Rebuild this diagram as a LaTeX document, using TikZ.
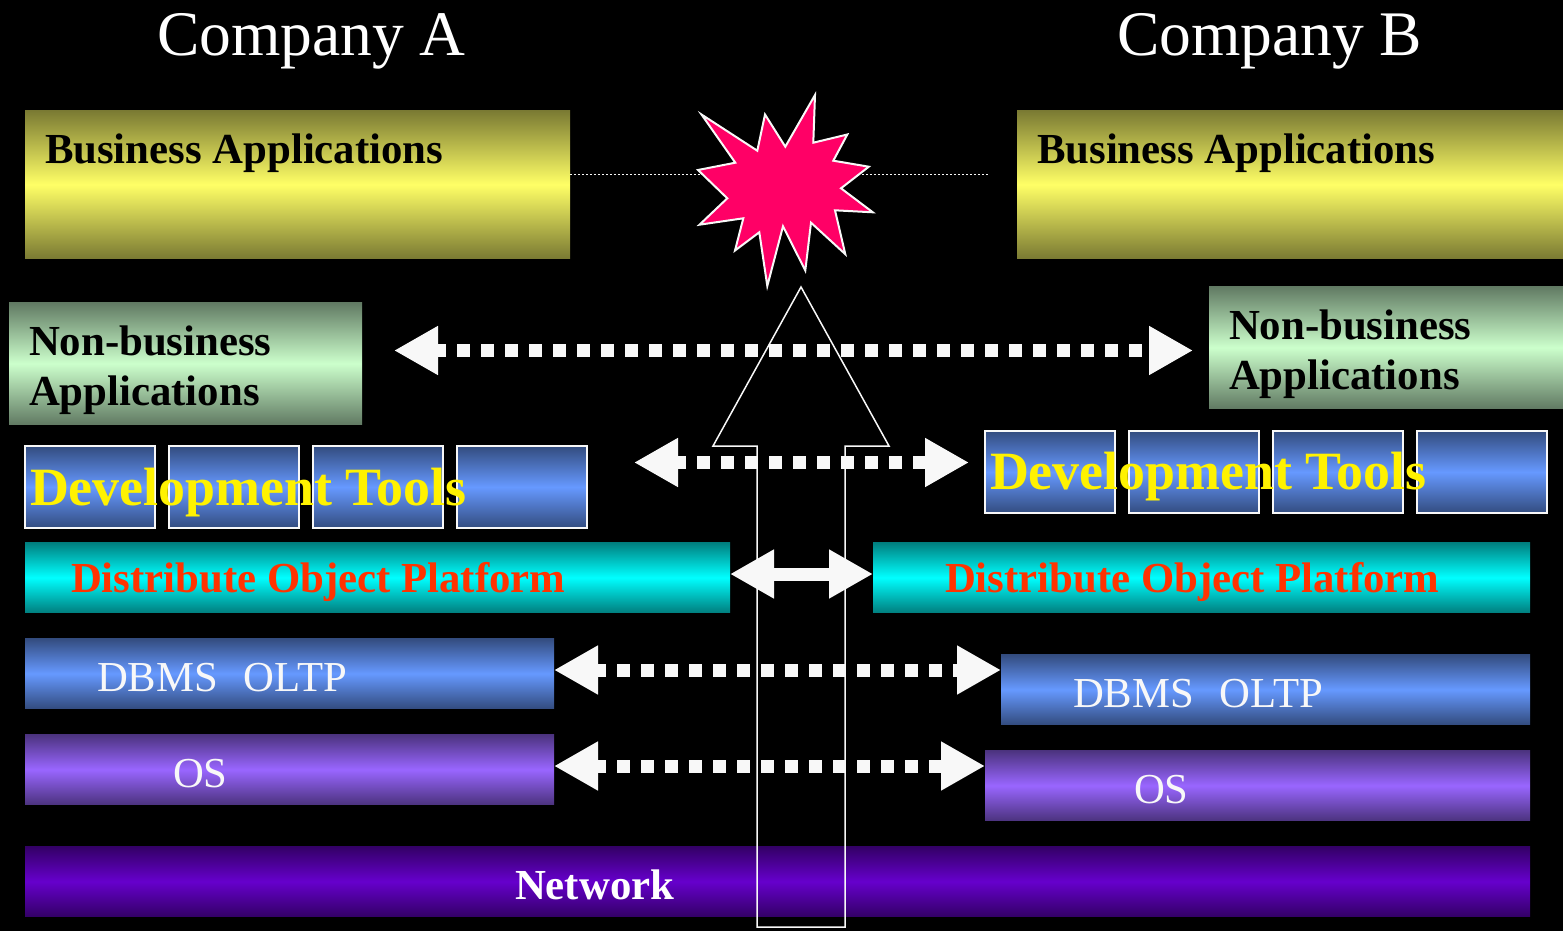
\documentclass[tikz,border=0pt]{standalone}
\usepackage{fontspec}
\setmainfont{Liberation Serif}
\usetikzlibrary{arrows.meta}
\definecolor{offw}{HTML}{F8F8F8}
\definecolor{redtxt}{HTML}{FF3300}
\definecolor{burst}{HTML}{FF0066}
\definecolor{yellowedge}{HTML}{7A7A33}\definecolor{yellowmid}{HTML}{FFFF66}
\definecolor{greenedge}{HTML}{617A63}\definecolor{greenmid}{HTML}{CCFFCC}
\definecolor{blueedge}{HTML}{334C7F}\definecolor{bluemid}{HTML}{6699FF}
\definecolor{cyanedge}{HTML}{007F7F}\definecolor{cyanmid}{HTML}{00FFFF}
\definecolor{purpedge}{HTML}{4C337F}\definecolor{purpmid}{HTML}{9966FF}
\definecolor{netedge}{HTML}{330066}\definecolor{netmid}{HTML}{6600CC}
\tikzset{
  band/.style n args={2}{rectangle,anchor=north west,inner sep=0pt,outer sep=0pt,draw=none,top color=#1,bottom color=#1,middle color=#2},
  ybox/.style={band={yellowedge}{yellowmid}},
  gbox/.style={band={greenedge}{greenmid}},
  bbox/.style={band={blueedge}{bluemid}},
  cbox/.style={band={cyanedge}{cyanmid}},
  pbox/.style={band={purpedge}{purpmid}},
  nbox/.style={band={netedge}{netmid}},
  tbox/.style={bbox,draw=offw,line width=1.6pt,minimum width=130pt,minimum height=82pt},
  txt/.style={anchor=base west,inner sep=0pt,outer sep=0pt,font=\fontsize{42.7}{50}\selectfont},
  btxt/.style={txt,font=\fontsize{42.8}{50}\selectfont\bfseries},
  head/.style={anchor=base west,inner sep=0pt,outer sep=0pt,text=white,font=\fontsize{63.5}{70}\selectfont},
  devtxt/.style={anchor=base west,inner sep=0pt,outer sep=0pt,text=yellow,font=\fontsize{53.9}{60}\selectfont\bfseries},
  dblarrow/.style={draw=offw,line width=13pt,{Triangle[length=44pt,width=46pt,fill=offw]}-{Triangle[length=44pt,width=46pt,fill=offw]}},
  dots/.style={dblarrow,dash pattern=on 13pt off 11pt,dash phase=2pt},
  outlinew/.style={draw=offw,line width=1.5pt,line join=miter},
}
\begin{document}
\begin{tikzpicture}[x=1pt,y=-1pt]
\path[use as bounding box,fill=black] (0,0) rectangle (1563,931);

% dotted line behind the burst
\coordinate (dotend) at (988,174.5);
\coordinate (dotstart) at (570,174.5);
\draw[draw=offw,line width=1.5pt,dash pattern=on 1.5pt off 2.5pt] (dotstart) -- (dotend);

% boxes
\node[ybox,minimum width=545pt,minimum height=148pt] (busA) at (25,110.5) {};
\node[ybox,minimum width=546pt,minimum height=148pt] (busB) at (1017,110.5) {};
\node[gbox,minimum width=353pt,minimum height=122pt] (nonA) at (9,302.5) {};
\node[gbox,minimum width=354pt,minimum height=122pt] (nonB) at (1209,286.5) {};
\node[tbox] (tA1) at (25,446) {};
\node[tbox] (tA2) at (169,446) {};
\node[tbox] (tA3) at (313,446) {};
\node[tbox] (tA4) at (457,446) {};
\node[tbox] (tB1) at (985,431) {};
\node[tbox] (tB2) at (1129,431) {};
\node[tbox] (tB3) at (1273,431) {};
\node[tbox] (tB4) at (1417,431) {};
\node[cbox,minimum width=705pt,minimum height=70pt] (disA) at (25,542.5) {};
\node[cbox,minimum width=657pt,minimum height=70pt] (disB) at (873,542.5) {};
\node[bbox,minimum width=529pt,minimum height=70pt] (dbA) at (25,638.5) {};
\node[bbox,minimum width=529pt,minimum height=70pt] (dbB) at (1001,654.5) {};
\node[pbox,minimum width=529pt,minimum height=70pt] (osA) at (25,734.5) {};
\node[pbox,minimum width=545pt,minimum height=70pt] (osB) at (985,750.5) {};
\node[nbox,minimum width=1505pt,minimum height=70pt] (net) at (25,846.5) {};

% burst
\draw[outlinew,line width=2pt,fill=burst] (815,95) -- (813.3,142.7) -- (847.3,134.5) -- (833.3,160.7) -- (868.8,166.7) -- (841,188.3) -- (872.8,212.3) -- (835,210.3) -- (845.3,254.2) -- (811,222.7) -- (805.3,270.5) -- (783,226.3) -- (767.3,286) -- (759.3,232.3) -- (735,250.5) -- (743.3,218.3) -- (699.5,224.7) -- (727.3,198.3) -- (698,170) -- (735.3,162.7) -- (701.5,114.5) -- (757.3,150.7) -- (765,114.5) -- (785.3,146.7) -- cycle;

% hollow up arrow
\draw[outlinew] (801,287) -- (889,446) -- (845,446) -- (845,927) -- (757,927) -- (757,446) -- (713,446) -- cycle;

% double arrows
\coordinate (r1l) at (394,350.5);
\coordinate (r1r) at (1193,350.5);
\coordinate (r2l) at (634,462.5);
\coordinate (r2r) at (969,462.5);
\draw[dots] (r1l) -- (r1r);
\draw[dots] (r2l) -- (r2r);
\draw[dblarrow] ([yshift=3.5pt]disA.east) -- ([yshift=3.5pt]disB.west);
\draw[dots] ([yshift=3.5pt]dbA.east) -- ([yshift=19.5pt]dbB.west);
\draw[dots] ([yshift=3.5pt]osA.east) -- ([yshift=19.5pt]osB.west);

% texts
\node[head] (cA) at (157,55.5) {Company A};
\node[head] (cB) at (1117,55.5) {Company B};
\node[btxt,text=black] (lb1) at (45,163) {Business Applications};
\node[btxt,text=black] (lb2) at (1037,163) {Business Applications};
\node[btxt,text=black] (ln1) at (29,355) {Non-business};
\node[btxt,text=black] (ln2) at (29,405) {Applications};
\node[btxt,text=black] (ln3) at (1229,339) {Non-business};
\node[btxt,text=black] (ln4) at (1229,389) {Applications};
\node[devtxt] (ld1) at (30,505) {Development Tools};
\node[devtxt] (ld2) at (990,489) {Development Tools};
\node[btxt,text=redtxt] (lp1) at (71,592) {Distribute Object Platform};
\node[btxt,text=redtxt] (lp2) at (945,592) {Distribute Object Platform};
\node[txt,text=offw] (ldb1) at (97,691) {DBMS\hspace{26pt}OLTP};
\node[txt,text=offw] (ldb2) at (1073,707) {DBMS\hspace{26pt}OLTP};
\node[txt,text=offw] (los1) at (173,787) {OS};
\node[txt,text=offw] (los2) at (1134,803) {OS};
\node[btxt,text=white] (lnet) at (515,899.5) {Network};
\end{tikzpicture}
\end{document}
